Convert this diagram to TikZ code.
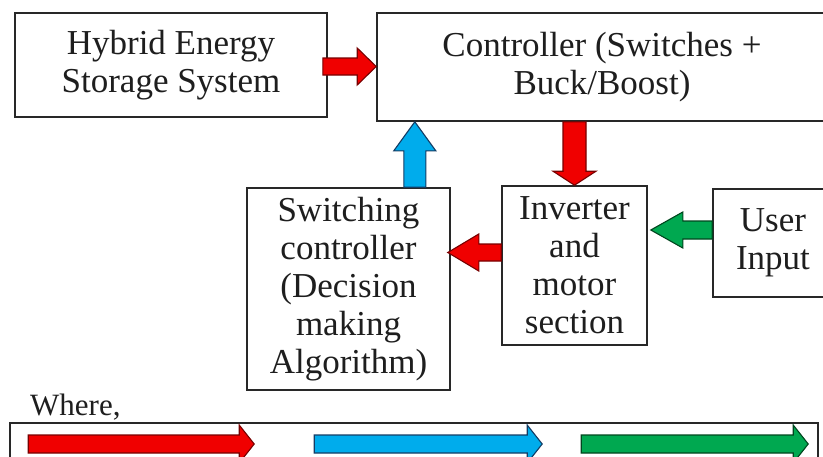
\documentclass[tikz,border=0pt]{standalone}
\usepackage{fontspec}
\setmainfont{Liberation Serif}
\usetikzlibrary{calc}
\definecolor{boxline}{RGB}{40,40,40}
\definecolor{txt}{RGB}{30,30,30}
\definecolor{redf}{RGB}{240,0,0}
\definecolor{redd}{RGB}{120,0,0}
\definecolor{bluef}{RGB}{0,172,236}
\definecolor{blued}{RGB}{20,60,100}
\definecolor{greenf}{RGB}{0,168,80}
\definecolor{greend}{RGB}{0,70,30}
\tikzset{
  blockbox/.style={draw=boxline, line width=1.6pt, fill=white, inner sep=0pt,
    align=center, text=txt, font=\fontsize{35}{38}\selectfont},
  redarr/.style={fill=redf, draw=redd, line width=1.1pt, line join=miter},
  bluearr/.style={fill=bluef, draw=blued, line width=1.1pt, line join=miter},
  greenarr/.style={fill=greenf, draw=greend, line width=1.1pt, line join=miter},
}
% #1 start, #2 tip, #3 half body width, #4 half head width, #5 head length, #6 style
\newcommand\fatarrow[6]{%
  \coordinate (fa-h) at ($(#2)!#5!(#1)$);
  \draw[#6] ($(#1)!#3!90:(#2)$) -- ($(fa-h)!#3!90:(#2)$) -- ($(fa-h)!#4!90:(#2)$)
    -- (#2) -- ($(fa-h)!#4!-90:(#2)$) -- ($(fa-h)!#3!-90:(#2)$)
    -- ($(#1)!#3!-90:(#2)$) -- cycle;}
\begin{document}
\begin{tikzpicture}[x=1pt,y=-1pt]
\useasboundingbox (0,0) rectangle (823,456);
\clip (0,0) rectangle (823,456);
\fill[white] (0,0) rectangle (823,456);

\node[blockbox, minimum width=312pt, minimum height=104pt] (hess) at (171,65)
  {Hybrid Energy\\Storage System};
\node[blockbox, minimum width=450pt, minimum height=108pt] (ctrl) at (602,67)
  {Controller (Switches +\\Buck/Boost)};
\node[blockbox, minimum width=203pt, minimum height=202pt] (sw) at (348.5,289)
  {Switching\\controller\\(Decision\\making\\Algorithm)};
\node[blockbox, minimum width=145pt, minimum height=159pt] (inv) at (574.5,265.5)
  {Inverter\\and\\motor\\section};
\node[blockbox, minimum width=120pt, minimum height=108pt] (user) at (773,243)
  {User\\Input};

\node[anchor=base west, inner sep=0pt, text=txt, font=\fontsize{31}{36}\selectfont]
  (where) at (30,415) {Where,};
\node[draw=boxline, line width=1.6pt, minimum width=808pt, minimum height=52pt,
  inner sep=0pt] (legend) at (414,449) {};

% HESS -> Controller
\coordinate (a1s) at ($(hess.east)+(-5,1.5)$);
\coordinate (a1e) at (ctrl.west |- a1s);
\fatarrow{a1s}{a1e}{8.5pt}{18.5pt}{19pt}{redarr}

% Controller -> Inverter
\coordinate (a2e) at (inv.north);
\coordinate (a2s) at (ctrl.south -| a2e);
\fatarrow{a2s}{a2e}{11.5pt}{21.5pt}{14pt}{redarr}

% Switching controller -> Controller
\coordinate (a3s) at ($(sw.north east)+(-36,0)$);
\coordinate (a3e) at (ctrl.south -| a3s);
\fatarrow{a3s}{a3e}{11pt}{21pt}{29pt}{bluearr}

% Inverter -> Switching controller
\coordinate (a4s) at ($(inv.west)+(0,-13)$);
\coordinate (a4e) at ($(sw.east |- a4s)+(-3,0)$);
\fatarrow{a4s}{a4e}{8.5pt}{18.5pt}{31pt}{redarr}

% User Input -> Inverter
\coordinate (a5s) at ($(user.west)+(0,-13)$);
\coordinate (a5e) at ($(inv.east |- a5s)+(3,0)$);
\fatarrow{a5s}{a5e}{9pt}{18pt}{32pt}{greenarr}

% legend arrows
\coordinate (l1s) at ($(legend.west)+(19,-5)$);
\coordinate (l1e) at ($(l1s)+(226,0)$);
\fatarrow{l1s}{l1e}{9pt}{19pt}{15pt}{redarr}
\coordinate (l2s) at ($(legend.west)+(305,-5)$);
\coordinate (l2e) at ($(l2s)+(228,0)$);
\fatarrow{l2s}{l2e}{9pt}{19pt}{15pt}{bluearr}
\coordinate (l3s) at ($(legend.west)+(572,-5)$);
\coordinate (l3e) at ($(l3s)+(227,0)$);
\fatarrow{l3s}{l3e}{9pt}{19pt}{15pt}{greenarr}
\end{tikzpicture}
\end{document}
